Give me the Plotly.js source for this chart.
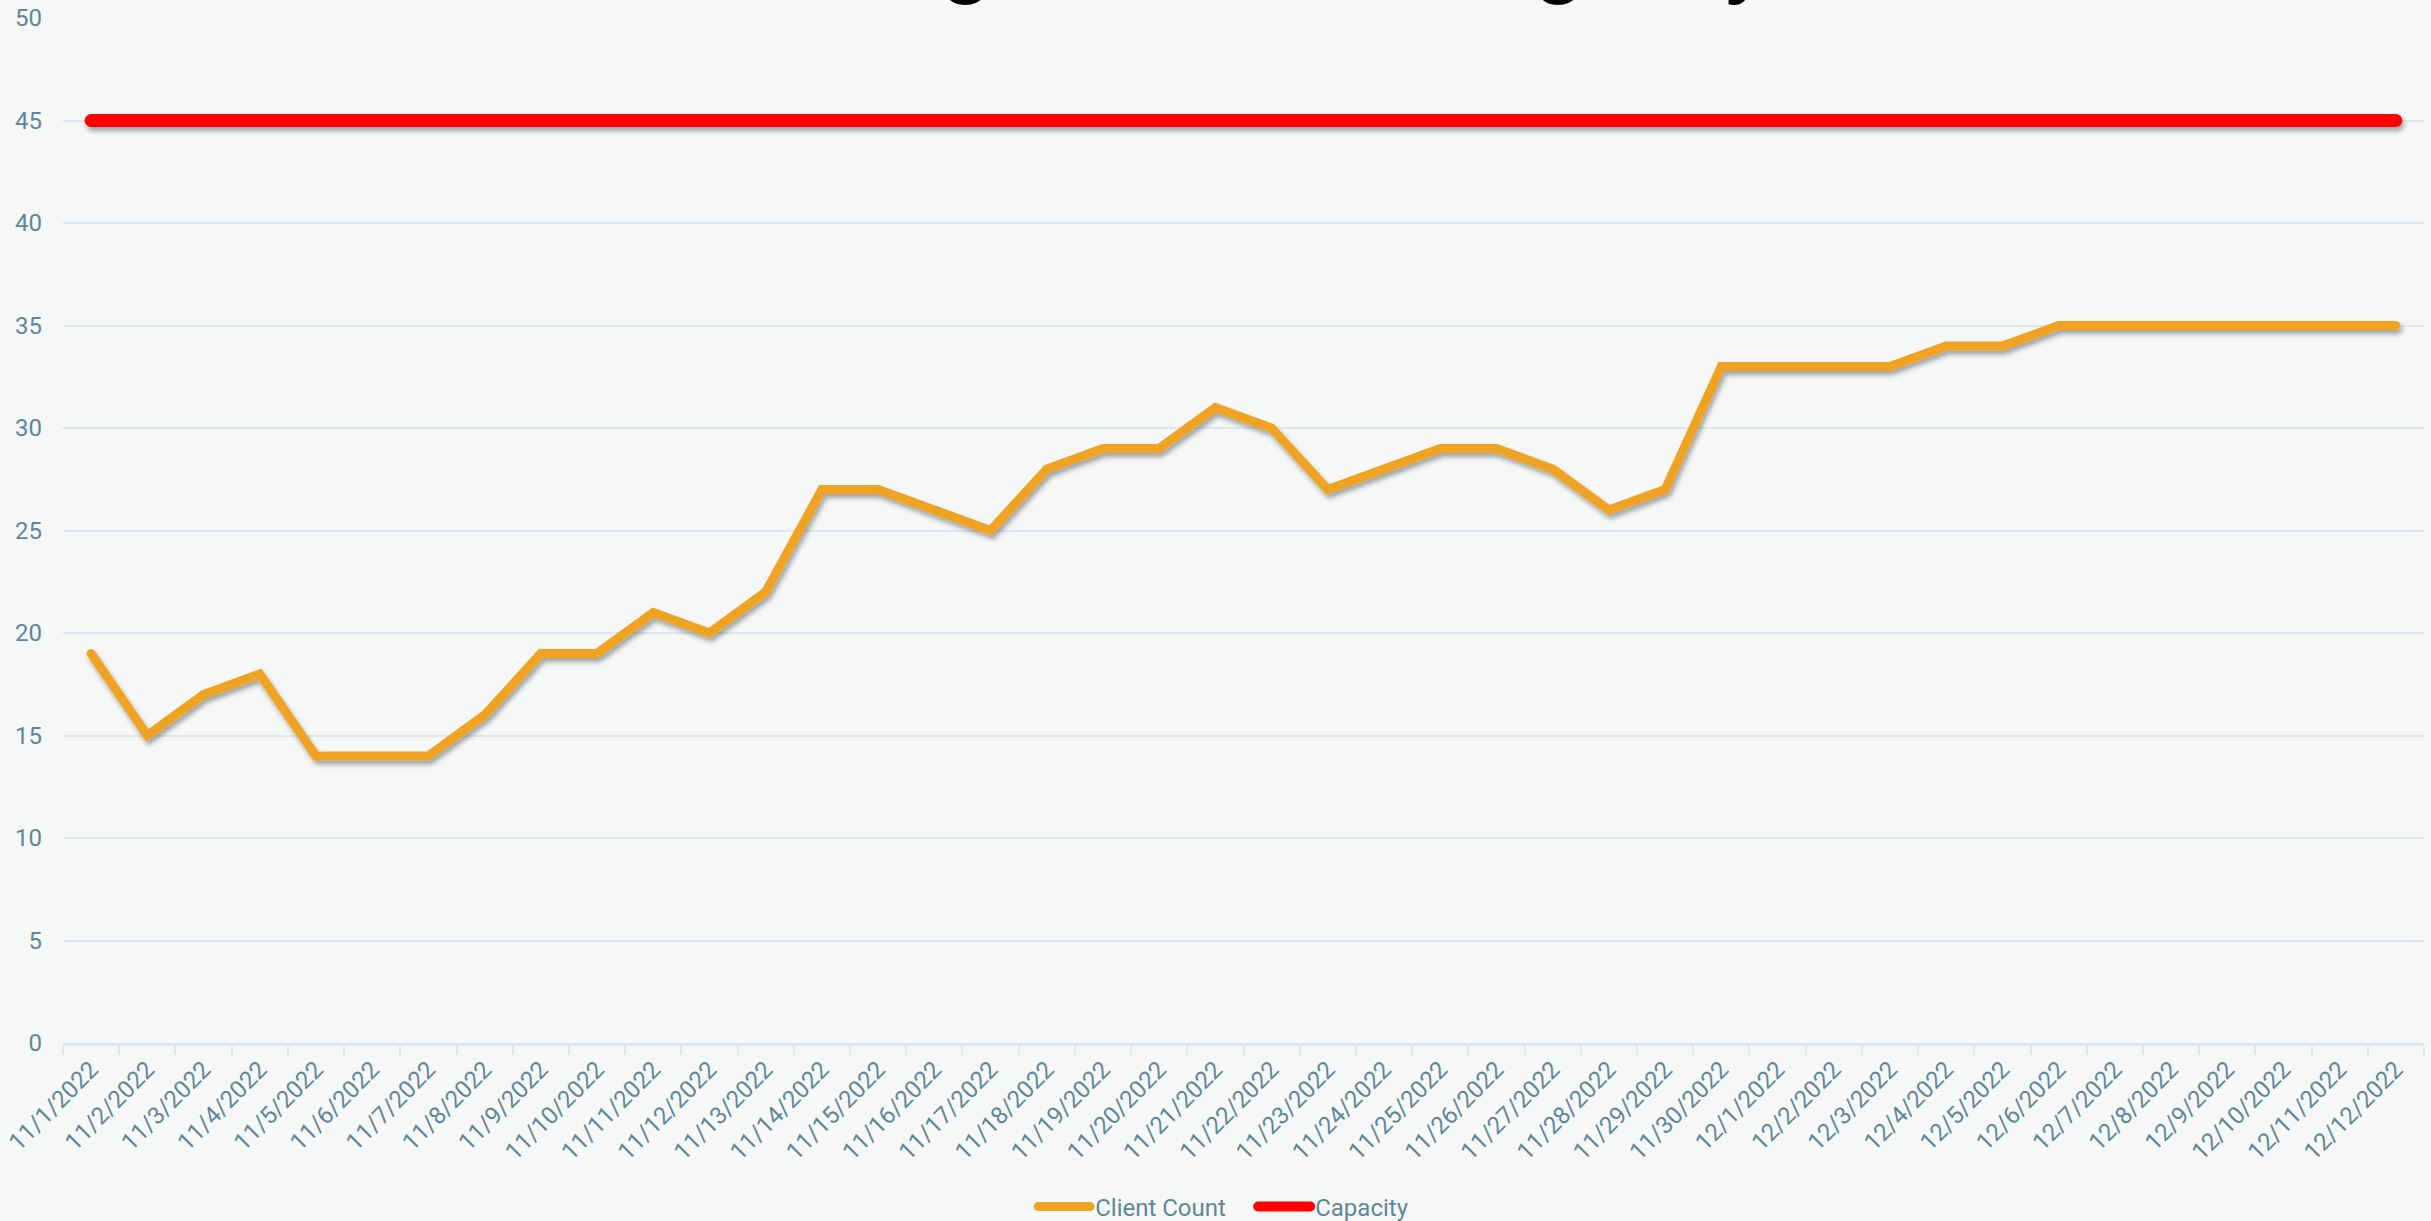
<!DOCTYPE html>
<html>
<head>
<meta charset="utf-8">
<script src="https://cdn.plot.ly/plotly-3.0.1.min.js"></script>
<style>
  html, body { margin: 0; padding: 0; background: #f6f8f8; }
  #chart { width: 2431px; height: 1221px; }
  .scatterlayer .trace .js-line { filter: url(#lineshadow); stroke-linecap: round; stroke-linejoin: miter; }
  .legend .js-line { stroke-linecap: round; }
</style>
</head>
<body>
<svg width="0" height="0" style="position:absolute">
  <defs>
    <filter id="lineshadow" x="-500" y="-500" width="4000" height="3000" filterUnits="userSpaceOnUse">
      <feDropShadow dx="2" dy="4" stdDeviation="2.5" flood-color="#000000" flood-opacity="0.35"/>
    </filter>
  </defs>
</svg>
<div id="chart"></div>
<script>
const titleText = "Average Census vs Agency";
const dates = ["11/1/2022","11/2/2022","11/3/2022","11/4/2022","11/5/2022","11/6/2022","11/7/2022","11/8/2022","11/9/2022","11/10/2022",
  "11/11/2022","11/12/2022","11/13/2022","11/14/2022","11/15/2022","11/16/2022","11/17/2022","11/18/2022","11/19/2022","11/20/2022",
  "11/21/2022","11/22/2022","11/23/2022","11/24/2022","11/25/2022","11/26/2022","11/27/2022","11/28/2022","11/29/2022","11/30/2022",
  "12/1/2022","12/2/2022","12/3/2022","12/4/2022","12/5/2022","12/6/2022","12/7/2022","12/8/2022","12/9/2022","12/10/2022",
  "12/11/2022","12/12/2022"];
const clientCount = [19,15,17,18,14,14,14,16,19,19,
  21,20,22,27,27,26,25,28,29,29,
  31,30,27,28,29,29,28,26,27,33,
  33,33,33,34,34,35,35,35,35,35,
  35,35];
const capacity = [45,45,45,45,45,45,45,45,45,45,
  45,45,45,45,45,45,45,45,45,45,
  45,45,45,45,45,45,45,45,45,45,
  45,45,45,45,45,45,45,45,45,45,
  45,45];

const tickColor = "#5f8799";
const gridColor = "#dfe7ec";

const traces = [
  { x: dates, y: clientCount, name: "Client Count", type: "scatter", mode: "lines",
    line: { color: "#f0a322", width: 9, shape: "linear" }, hoverinfo: "x+y" },
  { x: dates, y: capacity, name: "Capacity", type: "scatter", mode: "lines",
    line: { color: "#ff0000", width: 13 }, hoverinfo: "x+y" }
];

const layout = {
  width: 2431, height: 1221,
  paper_bgcolor: "#f6f8f8", plot_bgcolor: "#f6f8f8",
  font: { family: "Roboto, sans-serif", color: tickColor, size: 24 },
  margin: { l: 63, r: 7, t: 18, b: 178, autoexpand: false },
  showlegend: true,
  legend: { orientation: "h", x: 0.425, xanchor: "left", xref: "container",
    y: 0.0115, yanchor: "middle", yref: "container",
    font: { size: 24, color: tickColor }, bgcolor: "rgba(0,0,0,0)",
    itemwidth: 52, entrywidth: 153, entrywidthmode: "pixels" },
  xaxis: {
    type: "category", tickson: "boundaries", showgrid: false,
    ticks: "outside", ticklen: 9, tickwidth: 2, tickcolor: gridColor,
    showline: true, linecolor: gridColor, linewidth: 3,
    tickangle: -45, tickfont: { size: 24, color: tickColor },
    range: [-0.5, 41.5], zeroline: false, automargin: false
  },
  yaxis: {
    range: [0, 50], dtick: 5, tick0: 0, showgrid: true, gridcolor: gridColor, gridwidth: 2,
    zeroline: false, showline: false, ticks: "", ticklabelstandoff: 20,
    tickfont: { size: 24, color: tickColor }, automargin: false
  },
  annotations: [
    { text: "<b>" + titleText + "</b>", xref: "paper", yref: "paper", x: 0.5, y: 1.008,
      xanchor: "center", yanchor: "bottom", showarrow: false,
      font: { family: "Roboto, sans-serif", size: 86, color: "#000000" } }
  ]
};

Plotly.newPlot("chart", traces, layout, { displayModeBar: false, responsive: false });
</script>
</body>
</html>
